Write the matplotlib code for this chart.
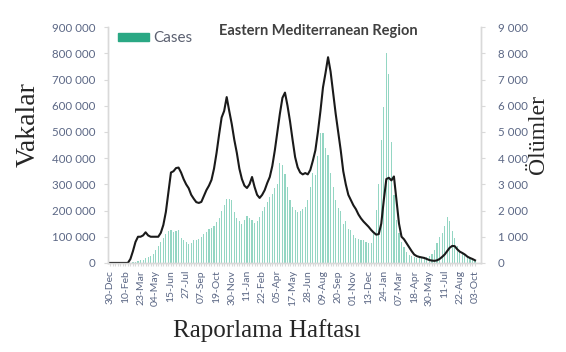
import pandas as pd
import matplotlib
matplotlib.use("Agg")
import matplotlib.pyplot as plt
from matplotlib.patches import Patch
from matplotlib.ticker import FuncFormatter

# weekly data, Eastern Mediterranean Region (30-Dec-2019 .. 03-Oct-2022)
start_week = "2019-12-30"
n_weeks = 145

cases = [
    0, 0, 0, 0, 0, 0, 0, 0, 0, 2000,
    5000, 8000, 10000, 13000, 18000, 23000, 28000, 35000, 50000, 65000,
    80000, 95000, 112000, 120000, 125000, 118000, 122000, 125000, 95000, 88000,
    80000, 72000, 78000, 86000, 88000, 92000, 100000, 110000, 118000, 128000,
    133000, 141000, 155000, 170000, 200000, 220000, 245000, 245000, 240000, 195000,
    170000, 160000, 150000, 165000, 178000, 170000, 162000, 153000, 160000, 175000,
    197000, 215000, 232000, 250000, 262000, 285000, 300000, 380000, 375000, 340000,
    290000, 240000, 215000, 202000, 196000, 198000, 205000, 215000, 240000, 290000,
    345000, 336000, 410000, 495000, 495000, 440000, 412000, 343000, 290000, 240000,
    210000, 200000, 150000, 160000, 130000, 126000, 105000, 95000, 90000, 88000,
    88000, 80000, 75000, 75000, 110000, 202000, 300000, 470000, 596000, 800000,
    720000, 463000, 260000, 164000, 113000, 81000, 62000, 43000, 30000, 25000,
    22000, 20000, 20000, 18000, 20000, 22000, 25000, 35000, 50000, 75000,
    100000, 116000, 140000, 175000, 160000, 120000, 95000, 65000, 50000, 43000,
    30000, 24000, 18000, 14000, 10000,
]

deaths = [
    0, 0, 0, 0, 0, 0, 0, 0, 150, 450,
    800, 1000, 1000, 1050, 1170, 1050, 1000, 1000, 1000, 1000,
    1150, 1450, 1950, 2700, 3450, 3500, 3620, 3640, 3450, 3200,
    3000, 2850, 2600, 2450, 2320, 2290, 2330, 2550, 2780, 2950,
    3170, 3600, 4200, 4900, 5550, 5800, 6330, 5800, 5300, 4700,
    4200, 3600, 3200, 2950, 2860, 3000, 3280, 2900, 2600, 2480,
    2600, 2780, 3050, 3280, 3700, 4300, 5000, 5700, 6300, 6500,
    6000, 5400, 4700, 4040, 3650, 3450, 3380, 3430, 3380, 3550,
    3900, 4300, 5000, 5800, 6700, 7250, 7850, 7300, 6500, 5700,
    5000, 4300, 3500, 3000, 2600, 2400, 2200, 2050, 1850, 1700,
    1580, 1480, 1380, 1260, 1160, 1080, 1100, 1500, 2400, 3200,
    3250, 3150, 3300, 2400, 1500, 1000, 900, 750, 600, 450,
    320, 260, 230, 210, 190, 150, 110, 90, 80, 100,
    150, 230, 320, 450, 580, 650, 640, 520, 430, 380,
    320, 240, 190, 150, 100,
]

weeks = pd.date_range(start_week, periods=n_weeks, freq="7D")
week_labels = [d.strftime("%d-%b") if i % 6 == 0 else "" for i, d in enumerate(weeks)]
x = list(range(n_weeks))

bar_color = "#3db592"
tick_color = "#5b6785"
spine_color = "#d9d9d9"

fig = plt.figure(figsize=(5.66, 3.52), dpi=100)
ax = fig.add_axes([0.191, 0.253, 0.659, 0.670])
ax2 = ax.twinx()

ax.bar(x, cases, width=0.45, color=bar_color, alpha=0.55, linewidth=0)
ax2.plot(x, deaths, color="#1a1a1a", lw=1.5)

ax.set_ylim(0, 900000)
ax2.set_ylim(0, 9000)
ax.set_xlim(-0.8, 146.4)
ax.set_yticks(range(0, 900001, 100000))
ax2.set_yticks(range(0, 9001, 1000))
fmt = FuncFormatter(lambda v, p: f"{int(v):,}".replace(",", " "))
ax.yaxis.set_major_formatter(fmt)
ax2.yaxis.set_major_formatter(fmt)

ax.set_xticks(x)
ax.set_xticklabels(week_labels, rotation=90)

for a in (ax, ax2):
    a.spines["top"].set_visible(False)
    for side in ("left", "right", "bottom"):
        a.spines[side].set_color(spine_color)
        a.spines[side].set_linewidth(1.0)
    a.tick_params(colors=spine_color, labelcolor=tick_color, labelsize=8.3,
                  length=3, width=0.8, pad=6)
    for lab in a.get_xticklabels() + a.get_yticklabels():
        lab.set_family("Lato")
ax.tick_params(axis="x", length=2, pad=3, labelsize=7.5)
ax2.tick_params(axis="y", pad=9)

ax.text(0.563, 0.985, "Eastern Mediterranean Region", transform=ax.transAxes,
        ha="center", va="center", fontsize=10.5, fontweight="bold",
        color="#404040", family="Lato")

leg = ax.legend(handles=[Patch(color="#2aa884", label="Cases")], loc="upper left",
                bbox_to_anchor=(0.011, 1.008), borderaxespad=0, frameon=False,
                handlelength=2.0, handleheight=0.5, handletextpad=0.3,
                prop={"family": "Lato", "size": 11})
for t in leg.get_texts():
    t.set_color("#5b6070")

serif = dict(family="Liberation Serif", color="#262626")
fig.text(0.049, 0.645, "Vakalar", rotation=90, ha="center", va="center",
         fontsize=20, **serif)
fig.text(0.951, 0.619, "Ölümler", rotation=90, ha="center", va="center",
         fontsize=17, **serif)
fig.text(0.472, 0.06, "Raporlama Haftası", ha="center", va="center",
         fontsize=18, **serif)

fig.savefig("out.png", dpi=100)
